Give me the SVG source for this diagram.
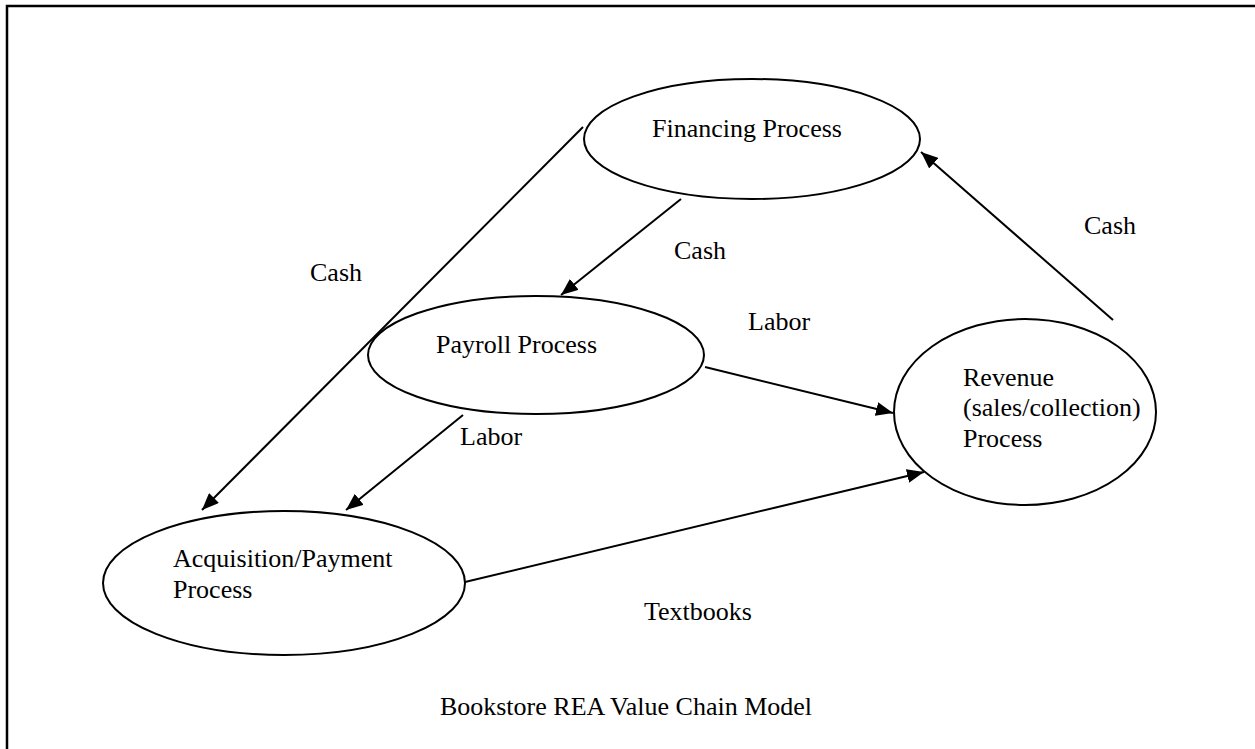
<svg xmlns="http://www.w3.org/2000/svg" width="1255" height="749" viewBox="0 0 1255 749">
  <style>
    .node { fill: #ffffff; stroke: #000000; stroke-width: 2; }
    .lbl { font-family: "Liberation Serif", "Times New Roman", serif; font-size: 26px; fill: #000000; }
    .edge { stroke: #000000; stroke-width: 2; fill: none; marker-end: url(#arrow); }
  </style>
  <defs>
    <marker id="arrow" markerUnits="userSpaceOnUse" markerWidth="18" markerHeight="14" refX="17" refY="7" orient="auto">
      <path d="M0,0 L17,7 L0,14 Z" fill="#000000"/>
    </marker>
  </defs>
  <rect width="1255" height="749" fill="#ffffff"/>
  <!-- page frame -->
  <path d="M7,749 V6 H1255" fill="none" stroke="#000000" stroke-width="2.5"/>

  <g id="connectors">
    <line class="edge" x1="583" y1="127" x2="202" y2="510"/>
    <line class="edge" x1="681" y1="199" x2="561" y2="295"/>
    <line class="edge" x1="1113" y1="320" x2="921" y2="152"/>
    <line class="edge" x1="705" y1="367" x2="893" y2="413"/>
    <line class="edge" x1="463" y1="415" x2="346" y2="510"/>
    <line class="edge" x1="465" y1="582" x2="924" y2="472"/>
    <text class="lbl" x="310" y="281">Cash</text>
    <text class="lbl" x="674" y="259">Cash</text>
    <text class="lbl" x="1084" y="234">Cash</text>
    <text class="lbl" x="748" y="330">Labor</text>
    <text class="lbl" x="460" y="445">Labor</text>
    <text class="lbl" x="644" y="620">Textbooks</text>
  </g>

  <g id="financing">
    <ellipse class="node" cx="752" cy="139" rx="168" ry="60"/>
    <text class="lbl" x="652" y="137">Financing Process</text>
  </g>
  <g id="payroll">
    <ellipse class="node" cx="536" cy="355" rx="168" ry="59"/>
    <text class="lbl" x="436" y="353">Payroll Process</text>
  </g>
  <g id="revenue">
    <ellipse class="node" cx="1025" cy="412" rx="131" ry="93"/>
    <text class="lbl" x="963" y="386">Revenue</text>
    <text class="lbl" x="963" y="416">(sales/collection)</text>
    <text class="lbl" x="963" y="447">Process</text>
  </g>
  <g id="acquisition">
    <ellipse class="node" cx="284" cy="583" rx="181" ry="72"/>
    <text class="lbl" x="173" y="567">Acquisition/Payment</text>
    <text class="lbl" x="173" y="598">Process</text>
  </g>

  <text class="lbl" x="626" y="715" text-anchor="middle">Bookstore REA Value Chain Model</text>
</svg>
